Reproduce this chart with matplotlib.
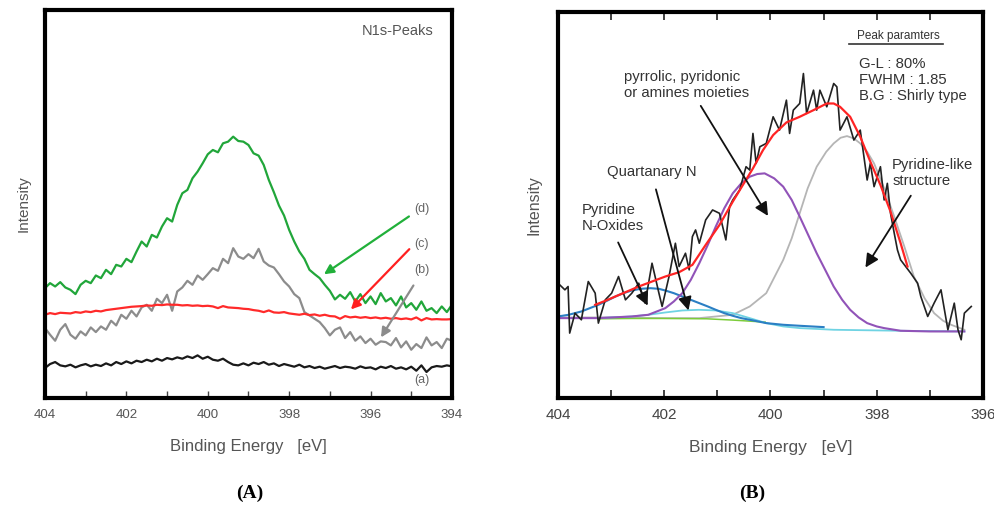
import numpy as np
import matplotlib
matplotlib.use("Agg")
import matplotlib.pyplot as plt
from matplotlib.ticker import MultipleLocator

plt.rcParams['font.family'] = ['Liberation Sans', 'DejaVu Sans']

# ---------------- panel A: N1s spectra of four samples ----------------
energy_a = np.arange(404.0, 393.99, -0.125)   # measurement grid, eV

curve_d = [330, 345, 335, 348, 332, 325, 312, 340, 352, 345,
           368, 360, 385, 372, 400, 395, 418, 408, 440, 470,
           455, 490, 482, 515, 540, 530, 580, 615, 625, 660,
           680, 705, 732, 745, 738, 765, 770, 785, 772, 770,
           760, 735, 728, 700, 655, 618, 578, 548, 505, 470,
           440, 418, 385, 372, 360, 340, 322, 296, 310, 298,
           318, 290, 312, 285, 305, 282, 315, 290, 300, 278,
           305, 272, 285, 265, 290, 262, 270, 255, 275, 258,
           280]
curve_b = [210, 190, 172, 205, 222, 190, 178, 200, 188, 212,
           198, 215, 205, 232, 218, 250, 238, 262, 245, 272,
           280, 262, 298, 285, 310, 262, 320, 332, 352, 340,
           368, 355, 372, 390, 382, 418, 405, 450, 425, 418,
           432, 420, 448, 410, 398, 392, 372, 350, 335, 312,
           300, 258, 248, 238, 228, 210, 188, 205, 212, 180,
           198, 172, 185, 165, 178, 160, 170, 168, 158, 180,
           152, 170, 145, 162, 150, 182, 158, 168, 150, 178,
           172]
curve_c = [250, 255, 252, 256, 255, 254, 258, 256, 260, 258,
           262, 260, 264, 266, 268, 270, 272, 274, 275, 276,
           278, 277, 280, 279, 281, 280, 280, 278, 279, 277,
           278, 276, 277, 275, 270, 276, 272, 271, 270, 268,
           267, 264, 262, 258, 263, 257, 256, 258, 254, 252,
           250, 253, 249, 251, 247, 250, 246, 245, 238, 246,
           242, 244, 241, 243, 240, 242, 239, 241, 238, 240,
           237, 239, 236, 242, 233, 240, 236, 237, 236, 236,
           237]
curve_a = [90, 102, 108, 98, 95, 100, 92, 98, 102, 95,
           100, 96, 104, 98, 108, 102, 110, 104, 112, 108,
           115, 110, 118, 112, 120, 116, 122, 118, 125, 120,
           128, 118, 124, 115, 112, 118, 108, 100, 98, 104,
           98, 106, 102, 108, 100, 104, 96, 102, 98, 94,
           100, 92, 96, 90, 94, 88, 92, 96, 90, 94,
           92, 88, 95, 90, 92, 86, 94, 90, 96, 88,
           92, 86, 94, 82, 98, 78, 92, 96, 94, 98,
           95]

# ---------------- panel B: deconvoluted N1s spectrum ----------------
energy_b = [404.00, 403.87, 403.81, 403.78, 403.68, 403.56, 403.43, 403.30, 403.24, 403.11,
            402.99, 402.86, 402.73, 402.61, 402.48, 402.36, 402.23, 402.10, 402.04, 401.91,
            401.79, 401.72, 401.60, 401.53, 401.47, 401.41, 401.34, 401.22, 401.09, 400.96,
            400.84, 400.77, 400.71, 400.58, 400.46, 400.39, 400.33, 400.27, 400.20, 400.08,
            399.95, 399.83, 399.70, 399.64, 399.57, 399.45, 399.38, 399.32, 399.19, 399.13,
            399.07, 398.94, 398.81, 398.75, 398.69, 398.56, 398.43, 398.31, 398.18, 398.12,
            398.05, 397.93, 397.86, 397.80, 397.74, 397.67, 397.61, 397.55, 397.36, 397.23,
            397.17, 397.04, 396.92, 396.79, 396.66, 396.54, 396.47, 396.41, 396.35, 396.22]
raw_b = [345, 325, 335, 195, 255, 235, 350, 315, 225, 295,
         315, 365, 295, 315, 345, 285, 405, 315, 275, 365,
         465, 395, 435, 385, 485, 505, 465, 535, 565, 555,
         475, 575, 595, 625, 695, 685, 795, 705, 755, 765,
         845, 805, 895, 795, 865, 885, 975, 855, 925, 865,
         925, 875, 945, 935, 805, 845, 775, 805, 655, 705,
         635, 695, 595, 645, 555, 495, 445, 415, 375, 345,
         305, 245, 285, 325, 205, 285, 205, 175, 255, 275]

env_e = [403.30, 403.11, 402.92, 402.67, 402.48, 402.23, 401.98, 401.72, 401.47, 401.22,
         400.96, 400.71, 400.52, 400.33, 400.14, 399.95, 399.70, 399.45, 399.19, 398.94,
         398.81, 398.69, 398.50, 398.31, 398.12, 397.93, 397.74, 397.55, 397.42]
env_i = [280, 292, 305, 322, 335, 350, 365, 378, 400, 460,
         520, 590, 640, 690, 745, 790, 828, 845, 865, 885,
         885, 875, 845, 785, 710, 640, 560, 465, 395]

pyr_e = [404.00, 403.00, 402.00, 401.34, 400.71, 400.39, 400.08, 399.76, 399.60, 399.45,
         399.30, 399.13, 398.95, 398.81, 398.68, 398.56, 398.43, 398.31, 398.18, 398.05,
         397.86, 397.67, 397.48, 397.30, 397.10, 396.92, 396.75, 396.60, 396.35]
pyr_i = [242, 242, 240, 240, 250, 275, 315, 415, 480, 555,
         630, 695, 740, 765, 782, 787, 780, 765, 740, 705,
         630, 545, 455, 365, 300, 255, 232, 220, 205]

pyrrolic_e = [404.00, 403.24, 402.61, 402.30, 401.98, 401.82, 401.66, 401.50, 401.34, 401.18,
              401.03, 400.87, 400.71, 400.55, 400.39, 400.25, 400.11, 399.93, 399.76, 399.60,
              399.45, 399.29, 399.13, 398.97, 398.81, 398.65, 398.50, 398.34, 398.18, 398.00,
              397.86, 397.55, 397.00, 396.35]
pyrrolic_i = [240, 240, 245, 250, 270, 290, 315, 355, 405, 460,
              515, 570, 615, 645, 665, 673, 675, 660, 635, 595,
              545, 490, 435, 385, 335, 295, 265, 242, 225, 215,
              210, 202, 200, 200]

oxide_e = [404.00, 403.80, 403.56, 403.40, 403.24, 403.08, 402.92, 402.77, 402.61, 402.45,
           402.26, 402.10, 401.98, 401.82, 401.66, 401.50, 401.34, 401.18, 401.03, 400.87,
           400.71, 400.55, 400.39, 400.08, 399.76, 399.45, 399.00]
oxide_i = [245, 250, 260, 270, 280, 292, 305, 315, 323, 328,
           330, 328, 323, 315, 305, 295, 285, 275, 265, 255,
           247, 240, 235, 225, 220, 217, 213]

quat_e = [403.24, 402.61, 402.30, 401.98, 401.66, 401.35, 401.03, 400.71, 400.39, 400.08,
          399.76, 399.45, 398.81, 397.55, 396.35]
quat_i = [240, 245, 250, 257, 263, 265, 263, 255, 240, 225,
          215, 210, 205, 202, 200]

base_e = [403.24, 402.60, 402.00, 401.20, 400.70, 400.10]
base_i = [238, 239, 239, 238, 234, 228]

fig = plt.figure(figsize=(9.95, 5.05), dpi=100)
axA = fig.add_axes([0.0452, 0.2119, 0.409, 0.768])
axB = fig.add_axes([0.5608, 0.2119, 0.4271, 0.7644])

label_col = '#555555'

# panel A
axA.plot(energy_a, curve_d, color='#21a63a', lw=1.6)
axA.plot(energy_a, curve_b, color='#8c8c8c', lw=1.6)
axA.plot(energy_a, curve_c, color='#ff2a2a', lw=1.6)
axA.plot(energy_a, curve_a, color='#1a1a1a', lw=1.6)

for tail, head, col in [((395.0, 550), (397.2, 367), '#21b03a'),
                        ((395.0, 453), (396.53, 260), '#ff2020'),
                        ((394.91, 345), (395.78, 175), '#8c8c8c')]:
    axA.annotate('', xy=head, xytext=tail,
                 arrowprops=dict(arrowstyle='-|>', color=col, lw=1.6, mutation_scale=14))
for txt, y in [('(d)', 568), ('(c)', 463), ('(b)', 383), ('(a)', 55)]:
    axA.text(394.75, y, txt, fontsize=9, color='#666666', ha='center', va='center')
axA.text(394.45, 1103, 'N1s-Peaks', fontsize=10.5, color=label_col, ha='right', va='center')

axA.set_xlim(404, 394)
axA.set_ylim(0, 1165)
axA.set_xticks([404, 402, 400, 398, 396, 394])
axA.xaxis.set_minor_locator(MultipleLocator(1))
axA.set_yticks([])
axA.tick_params(axis='x', which='both', direction='in', length=5, width=1, colors='#444444',
                labelsize=9.5, labelcolor=label_col, pad=8)
axA.set_xlabel('Binding Energy   [eV]', fontsize=12, color=label_col, labelpad=13)
axA.set_ylabel('Intensity', fontsize=11, color=label_col, labelpad=10)

# panel B
axB.plot(pyr_e, pyr_i, color='#b5b5b5', lw=1.3)
axB.plot(base_e, base_i, color='#7ccc3a', lw=1.1)
axB.plot(quat_e, quat_i, color='#6fd3e3', lw=1.3)
axB.plot(oxide_e, oxide_i, color='#2b7fc4', lw=1.5)
axB.plot(pyrrolic_e, pyrrolic_i, color='#9153b8', lw=1.5)
axB.plot(energy_b, raw_b, color='#222222', lw=1.2)
axB.plot(env_e, env_i, color='#ff2424', lw=1.6)

for tail, head in [((401.34, 885), (400.02, 540)),
                   ((402.17, 635), (401.53, 255)),
                   ((402.89, 475), (402.29, 270)),
                   ((397.33, 615), (398.24, 385))]:
    axB.annotate('', xy=head, xytext=tail,
                 arrowprops=dict(arrowstyle='-|>', color='#111111', lw=1.3, mutation_scale=20))

txt_col = '#333333'
fs_b = 10.7
axB.text(402.75, 941, 'pyrrolic, pyridonic\nor amines moieties', fontsize=fs_b,
         color=txt_col, ha='left', va='center', linespacing=1.2)
axB.text(403.08, 679, 'Quartanary N', fontsize=fs_b, color=txt_col, ha='left', va='center')
axB.text(403.56, 541, 'Pyridine\nN-Oxides', fontsize=fs_b, color=txt_col, ha='left',
         va='center', linespacing=1.2)
axB.text(397.71, 676, 'Pyridine-like\nstructure', fontsize=fs_b, color=txt_col, ha='left',
         va='center', linespacing=1.2)
axB.text(397.6, 1088, 'Peak paramters', fontsize=8.5, color=txt_col, ha='center', va='center')
axB.plot([0.685, 0.905], [0.918, 0.918], transform=axB.transAxes, color='#333333', lw=1.2)
axB.text(398.33, 956, 'G-L : 80%\nFWHM : 1.85\nB.G : Shirly type', fontsize=fs_b,
         color=txt_col, ha='left', va='center', linespacing=1.2)

axB.set_xlim(404, 396)
axB.set_ylim(0, 1160)
axB.set_xticks([404, 402, 400, 398, 396])
axB.xaxis.set_minor_locator(MultipleLocator(1))
axB.set_yticks([])
axB.tick_params(axis='x', which='both', direction='in', length=6, width=1.2, top=True,
                colors='#222222', labelsize=11, labelcolor='#444444', pad=7)
axB.set_xlabel('Binding Energy   [eV]', fontsize=12.5, color=label_col, labelpad=13)
axB.set_ylabel('Intensity', fontsize=11.5, color=label_col, labelpad=12)

for ax in (axA, axB):
    for sp in ax.spines.values():
        sp.set_linewidth(3)
        sp.set_color('black')

fig.text(0.251, 0.024, '(A)', fontsize=14, fontweight='bold', family='Liberation Serif',
         ha='center', va='center')
fig.text(0.756, 0.024, '(B)', fontsize=14, fontweight='bold', family='Liberation Serif',
         ha='center', va='center')

fig.savefig('out.png', dpi=100)
